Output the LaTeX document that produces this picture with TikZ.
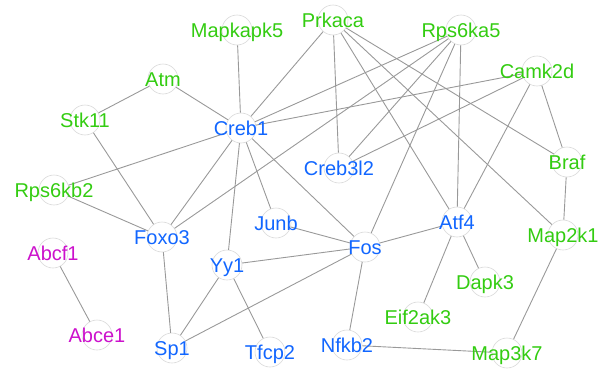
\documentclass[tikz,border=0pt]{standalone}
\usepackage{fontspec}
\setmainfont{Liberation Sans}
\definecolor{genegreen}{HTML}{33CC11}
\definecolor{geneblue}{HTML}{1166FF}
\definecolor{genepink}{HTML}{CC11CC}
\tikzstyle{vertex}=[circle,draw=black!15,line width=0.6pt,fill=white,minimum size=30pt,inner sep=0pt]
\tikzstyle{gene label}=[anchor=base,yshift=-7.5pt,inner sep=0pt,font=\fontsize{20}{24}\selectfont]
\tikzstyle{edge} = [draw,line width=0.9pt,-,black!40]

\begin{document}
\begin{tikzpicture}[x=1pt,y=-1pt]
    \useasboundingbox (0,0) rectangle (603,375);
    \foreach \pos/\name in {{(237,30)/Mapkapk5}, {(333,20)/Prkaca}, {(461,30)/Rps6ka5},
                            {(537,71)/Camk2d}, {(163,79)/Atm}, {(85,120)/Stk11},
                            {(241,128)/Creb1}, {(339,168)/Creb3l2}, {(567,162)/Braf},
                            {(54,190)/Rps6kb2}, {(162,237)/Foxo3}, {(276,223)/Junb},
                            {(365,247)/Fos}, {(457,222)/Atf4}, {(563,235)/Map2k1},
                            {(53,253)/Abcf1}, {(227,265)/Yy1}, {(485,282)/Dapk3},
                            {(418,317)/Eif2ak3}, {(97,335)/Abce1}, {(172,348)/Sp1},
                            {(270,352)/Tfcp2}, {(347,345)/Nfkb2}, {(507,353)/Map3k7}}
        \node[vertex] (\name) at \pos {};
    \foreach \source/ \dest  in {Mapkapk5/Creb1, Atm/Stk11, Atm/Creb1, Stk11/Foxo3,
                                 Rps6kb2/Creb1, Rps6kb2/Foxo3, Creb1/Prkaca, Creb1/Rps6ka5,
                                 Creb1/Camk2d, Creb1/Foxo3, Creb1/Yy1, Creb1/Junb, Creb1/Fos,
                                 Prkaca/Creb3l2, Prkaca/Atf4, Prkaca/Map2k1, Prkaca/Braf,
                                 Rps6ka5/Creb3l2, Rps6ka5/Foxo3, Rps6ka5/Fos, Rps6ka5/Atf4,
                                 Camk2d/Creb3l2, Camk2d/Atf4, Camk2d/Braf, Braf/Map2k1,
                                 Map2k1/Map3k7, Atf4/Fos, Atf4/Dapk3, Atf4/Eif2ak3,
                                 Fos/Junb, Fos/Yy1, Fos/Sp1, Fos/Nfkb2, Nfkb2/Map3k7,
                                 Yy1/Sp1, Yy1/Tfcp2, Foxo3/Sp1, Abcf1/Abce1}
        \path[edge] (\source) -- (\dest);
    \foreach \vertex / \col in {Mapkapk5/genegreen, Prkaca/genegreen, Rps6ka5/genegreen,
                                Camk2d/genegreen, Atm/genegreen, Stk11/genegreen,
                                Braf/genegreen, Rps6kb2/genegreen, Map2k1/genegreen,
                                Dapk3/genegreen, Eif2ak3/genegreen, Map3k7/genegreen,
                                Creb1/geneblue, Creb3l2/geneblue, Foxo3/geneblue,
                                Junb/geneblue, Fos/geneblue, Atf4/geneblue, Yy1/geneblue,
                                Sp1/geneblue, Tfcp2/geneblue, Nfkb2/geneblue,
                                Abcf1/genepink, Abce1/genepink}
        \path node[gene label,text=\col] at (\vertex) {\vertex};
\end{tikzpicture}
\end{document}
